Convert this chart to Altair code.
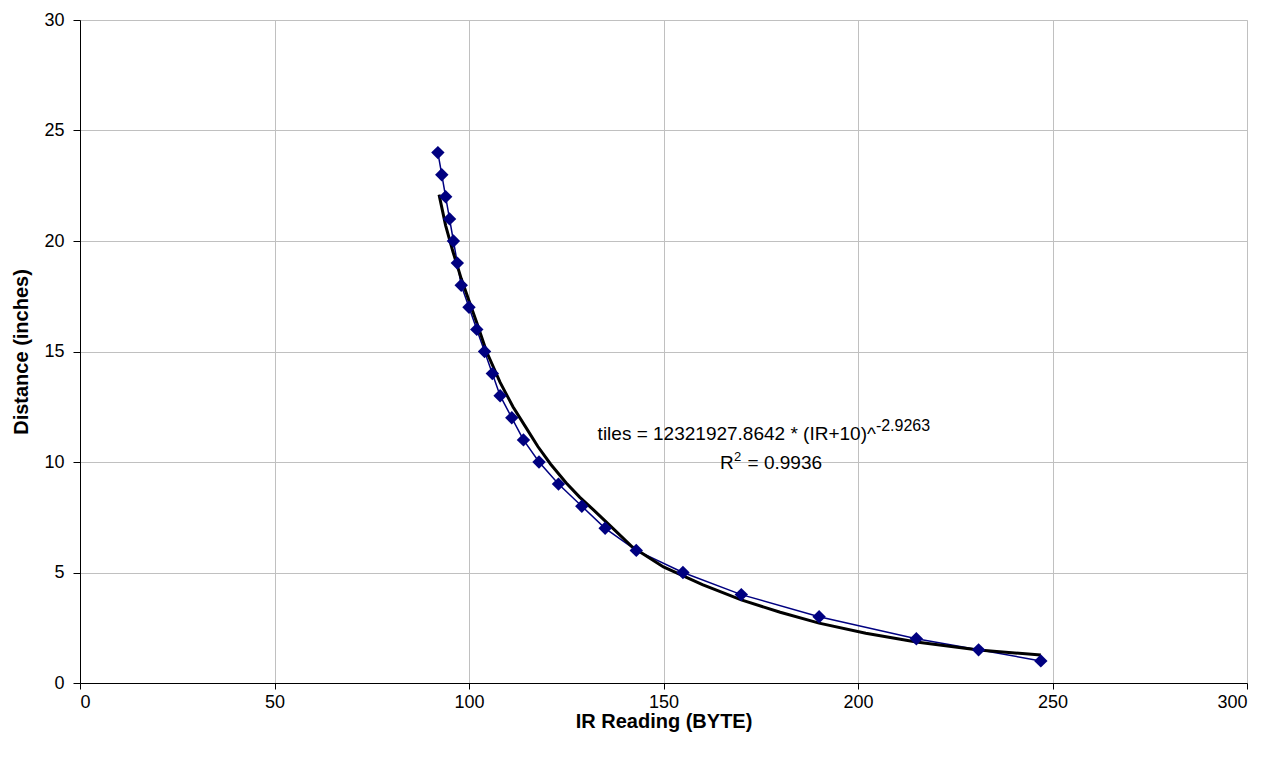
import altair as alt
import pandas as pd

# measured data (IR reading vs distance)
ir = [92, 93, 94, 95, 96, 97, 98, 100, 102, 104, 106, 108, 111, 114, 118, 123, 129, 135, 143, 155, 170, 190, 215, 231, 247]
dist = [24, 23, 22, 21, 20, 19, 18, 17, 16, 15, 14, 13, 12, 11, 10, 9, 8, 7, 6, 5, 4, 3, 2, 1.5, 1]

# trendline
trend_x = [92.3, 94, 95.9, 98, 100, 102, 104.5, 108, 111.3, 114.5, 117.7, 121, 125, 128.5, 132, 137, 142, 150, 160, 170, 180, 190, 202, 215, 231, 247]
trend_y = [22.1, 20.7, 19.5, 18.3, 17.3, 16.3, 15.0, 13.6, 12.5, 11.6, 10.7, 9.9, 9.05, 8.4, 7.83, 7.0, 6.15, 5.25, 4.45, 3.76, 3.2, 2.71, 2.25, 1.86, 1.49, 1.27]

# annotation texts
ann_text = ["tiles = 12321927.8642 * (IR+10)^", "-2.9263", "R", "2", "= 0.9936"]
ann_x = [204.6, 204.6, 164.5, 168.1, 171.6]
ann_y = [11.0, 11.42, 9.68, 10.05, 9.68]
ann_align = ["right", "left", "left", "left", "left"]
ann_size = [19, 16, 19, 13, 19]

FONT = "Liberation Sans"

pts = pd.DataFrame({"ir": ir, "dist": dist})
trend = pd.DataFrame({"ir": trend_x, "dist": trend_y, "o": list(range(len(trend_x)))})

xs = alt.Scale(domain=[0, 300], nice=False)
ys = alt.Scale(domain=[0, 30], nice=False)

xax = alt.X("ir:Q", scale=xs, axis=alt.Axis(
    title="IR Reading (BYTE)", values=[0, 50, 100, 150, 200, 250, 300],
    titleFont=FONT, titleFontSize=20, titleFontWeight="bold", titleColor="black",
    labelFont=FONT, labelFontSize=18, labelColor="black", labelPadding=4,
    domainColor="black", tickColor="black", tickSize=6, gridColor="#c0c0c0",
    titlePadding=0))
yax = alt.Y("dist:Q", scale=ys, axis=alt.Axis(
    title="Distance (inches)", values=[0, 5, 10, 15, 20, 25, 30],
    titleFont=FONT, titleFontSize=20, titleFontWeight="bold", titleColor="black",
    labelFont=FONT, labelFontSize=18, labelColor="black", labelPadding=9,
    domainColor="black", tickColor="black", tickSize=7, gridColor="#c0c0c0",
    titlePadding=12))

line = alt.Chart(pts).mark_line(color="#000080", strokeWidth=1.5).encode(x=xax, y=yax)
markers = alt.Chart(pts).mark_point(shape="diamond", filled=True, color="#000080", size=180, opacity=1).encode(x="ir:Q", y="dist:Q")
tline = alt.Chart(trend).mark_line(color="black", strokeWidth=3).encode(x="ir:Q", y="dist:Q", order="o:Q")

layers = [line, tline, markers]
for t, xv, yv, a, s in zip(ann_text, ann_x, ann_y, ann_align, ann_size):
    df = pd.DataFrame({"x": [xv], "y": [yv], "t": [t]})
    layers.append(alt.Chart(df).mark_text(font=FONT, fontSize=s, align=a, baseline="alphabetic", color="black").encode(x="x:Q", y="y:Q", text="t:N"))

chart = alt.layer(*layers).properties(
    width=1167, height=663,
    autosize=alt.AutoSizeParams(type="none"),
    padding={"left": 72, "top": 12, "right": 20, "bottom": 75},
).configure_view(stroke=None).configure(background="white")

chart.save("out.html", embed_options={"renderer": "svg", "actions": False})
